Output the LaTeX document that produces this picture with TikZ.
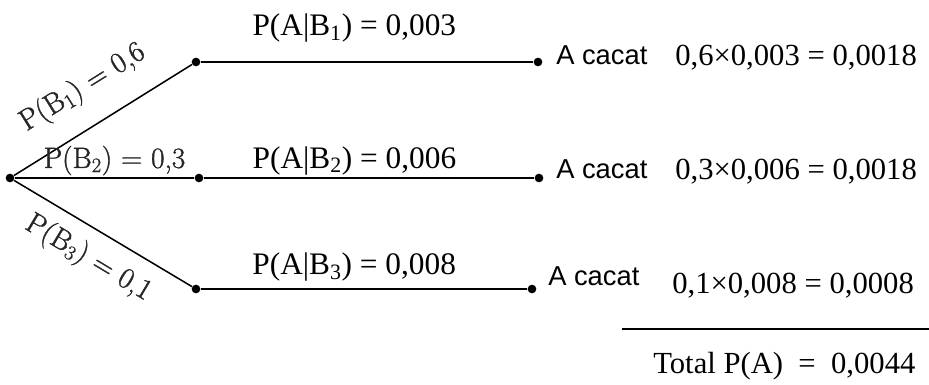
\documentclass[tikz,border=0pt]{standalone}
\usepackage{fontspec}
\newfontfamily\timesfont{Liberation Serif}
\newfontfamily\arialfont{Liberation Sans}
\newfontfamily\branchfont[FakeBold=1.2]{Latin Modern Roman}
\usetikzlibrary{positioning}

\begin{document}
\begin{tikzpicture}[x=0.75pt, y=-0.75pt,
    dot/.style={circle, fill, inner sep=0pt, minimum size=6.5pt},
    branch/.style={line width=1.15pt},
    prob/.style={font=\branchfont\fontsize{22}{26}\selectfont, text=black!85, inner sep=0pt},
    cond/.style={font=\timesfont\fontsize{23.5}{27}\selectfont, inner sep=0pt, anchor=base},
    event/.style={font=\arialfont\fontsize{20.5}{24}\selectfont, inner sep=0pt, anchor=base west},
    prod/.style={font=\timesfont\fontsize{23}{27}\selectfont, inner sep=0pt, anchor=base west}]
    \useasboundingbox (0,0) rectangle (929,385);
    % tree points
    \node[dot] (root) at (10,178) {};
    \node[dot] (b1) at (196,62) {};
    \node[dot] (b2) at (199,178) {};
    \node[dot] (b3) at (196,289) {};
    \node[dot] (a1) at (538,62) {};
    \node[dot] (a2) at (539,178) {};
    \node[dot] (a3) at (532,289) {};
    % first level
    \draw[branch] (root) -- node[prob, sloped, pos=0.5, above=17pt] (pb1) {P(B\textsubscript{1}) = 0,6} (b1);
    \draw[branch] (root) -- node[prob, pos=0.556, above=1.5pt] (pb2) {P(B\textsubscript{2}) = 0,3} (b2);
    \draw[branch] (root) -- node[prob, sloped, pos=0.5, below=10pt] (pb3) {P(B\textsubscript{3}) = 0,1} (b3);
    % second level
    \draw[branch] (b1) -- node[cond, pos=0.462, yshift=19.5pt] (pa1) {P(A|B\textsubscript{1}) = 0,003} (a1);
    \draw[branch] (b2) -- node[cond, pos=0.456, yshift=7.5pt] (pa2) {P(A|B\textsubscript{2}) = 0,006} (a2);
    \draw[branch] (b3) -- node[cond, pos=0.470, yshift=11pt] (pa3) {P(A|B\textsubscript{3}) = 0,008} (a3);
    % outcomes
    \node[event] (ev1) at (556,65) {A cacat};
    \node[event] (ev2) at (556,179) {A cacat};
    \node[event] (ev3) at (548,285) {A cacat};
    \node[prod] (pr1) at (675,66) {0,6×0,003 = 0,0018};
    \node[prod] (pr2) at (675,180) {0,3×0,006 = 0,0018};
    \node[prod] (pr3) at (672,293) {0,1×0,008 = 0,0008};
    % sum
    \coordinate (sumL) at (622,329);
    \coordinate (sumR) at (929,329);
    \draw[branch] (sumL) -- (sumR);
    \node[prod] (total) at (653,373) {Total P(A)\enskip=\enskip0,0044};
\end{tikzpicture}
\end{document}
